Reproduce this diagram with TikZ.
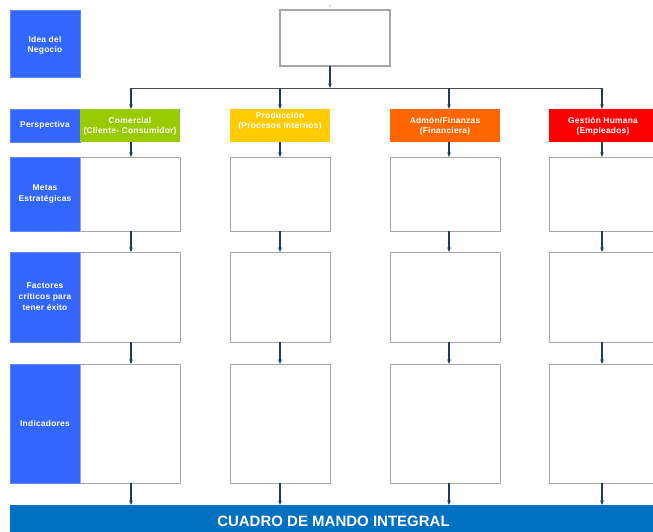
\documentclass[tikz,border=0pt]{standalone}
\usepackage{fontspec}
\setmainfont{Liberation Sans}
\newfontfamily\spacedfont{Liberation Sans}[LetterSpace=3]
\usetikzlibrary{arrows.meta}
\definecolor{lblue}{HTML}{3366FF}
\definecolor{cgreen}{HTML}{99CC00}
\definecolor{cyellow}{HTML}{FFCC00}
\definecolor{corange}{HTML}{FF6600}
\definecolor{cred}{HTML}{FF0000}
\definecolor{barblue}{HTML}{0070C0}
\definecolor{navy}{HTML}{1F3864}
\definecolor{bgray}{HTML}{A6A6A6}
\newcommand{\shiftv}[2]{\raisebox{#1}[\height][\depth]{\shortstack{#2}}}
\tikzset{
  lbl/.style={fill=lblue, draw=lblue!80!white, line width=0.6pt, inner sep=0pt, outer sep=0pt,
    minimum width=70pt, text=white, align=center, font=\spacedfont\fontsize{8.4}{11}\selectfont\bfseries},
  hdr/.style={inner sep=0pt, outer sep=0pt, minimum height=33pt, text=white, align=center,
    font=\spacedfont\fontsize{8.4}{11}\selectfont\bfseries},
  wbox/.style={draw=bgray, fill=white, line width=0.9pt, inner sep=0pt, outer sep=0pt},
  arr/.style={draw=navy, line width=1.1pt, -{Stealth[length=4.5pt,width=3.5pt]}},
  bus/.style={draw=black!70, line width=1pt}
}
\begin{document}
\begin{tikzpicture}[x=1pt,y=-1pt]
\useasboundingbox (0,0) rectangle (653,531);
\clip (0,0) rectangle (653,531);
\fill[white] (0,0) rectangle (653,531);
% left column labels
\node[lbl, minimum height=67pt] (idea) at (45,43.5) {\shiftv{-1.5pt}{Idea del\\[1pt]Negocio}};
\node[lbl, minimum height=33pt] (persp) at (45,125.5) {Perspectiva};
\node[lbl, minimum height=74pt] (metas) at (45,194) {Metas\\Estratégicas};
\node[lbl, minimum height=90pt] (fact) at (45,297) {Factores\\críticos para\\tener éxito};
\node[lbl, minimum height=119pt] (ind) at (45,423.5) {Indicadores};
% top box
\node[wbox, line width=1.4pt, minimum width=110pt, minimum height=56pt] (top) at (335,38) {};
\fill[black!60] (330,6) circle (0.6pt);
% headers
\node[hdr, fill=cgreen, minimum width=100pt] (h1) at (130,125.5) {\shiftv{-1pt}{Comercial\\[1pt](Cliente- Consumidor)}};
\node[hdr, fill=cyellow, minimum width=100pt] (h2) at (280,125.5) {\shiftv{4.5pt}{Producción\\[1pt](Procesos Internos)}};
\node[hdr, fill=corange, minimum width=110pt] (h3) at (445,125.5) {\shiftv{-1pt}{Admón/Finanzas\\[1pt](Financiera)}};
\node[hdr, fill=cred, minimum width=108pt] (h4) at (603,125.5) {\shiftv{-1pt}{Gestión Humana\\[1pt](Empleados)}};
% column x positions for connectors
\coordinate (c1) at (131,0);
\coordinate (c2) at (280,0);
\coordinate (c3) at (449,0);
\coordinate (c4) at (602,0);
\coordinate (ct) at (330,88);
\coordinate (b1) at (131,88);
\coordinate (b4) at (602,88);
% boxes
\foreach \i/\x/\w in {1/130/100,2/280/100,3/445/110,4/603/108}{
  \node[wbox, minimum width=\w pt, minimum height=74pt] (m\i) at (\x,194) {};
  \node[wbox, minimum width=\w pt, minimum height=90pt] (f\i) at (\x,297) {};
  \node[wbox, minimum width=\w pt, minimum height=119pt] (n\i) at (\x,423.5) {};
}
% bottom bar
\node[fill=barblue, inner sep=0pt, outer sep=0pt, minimum width=647pt, minimum height=32pt,
  text=white, font=\fontsize{15}{17}\selectfont\bfseries] (cmi) at (333.5,521) {CUADRO DE MANDO INTEGRAL};
% bus
\draw[bus] (b1) -- (b4);
\draw[arr] (top.south -| ct) -- (ct);
\foreach \i in {1,2,3,4}{
  \draw[arr] (c\i |- b1) -- (h\i.north -| c\i);
  \draw[arr] (h\i.south -| c\i) -- (m\i.north -| c\i);
  \draw[arr] (m\i.south -| c\i) -- (f\i.north -| c\i);
  \draw[arr] (f\i.south -| c\i) -- (n\i.north -| c\i);
  \draw[arr] (n\i.south -| c\i) -- (cmi.north -| c\i);
}
\end{tikzpicture}
\end{document}
